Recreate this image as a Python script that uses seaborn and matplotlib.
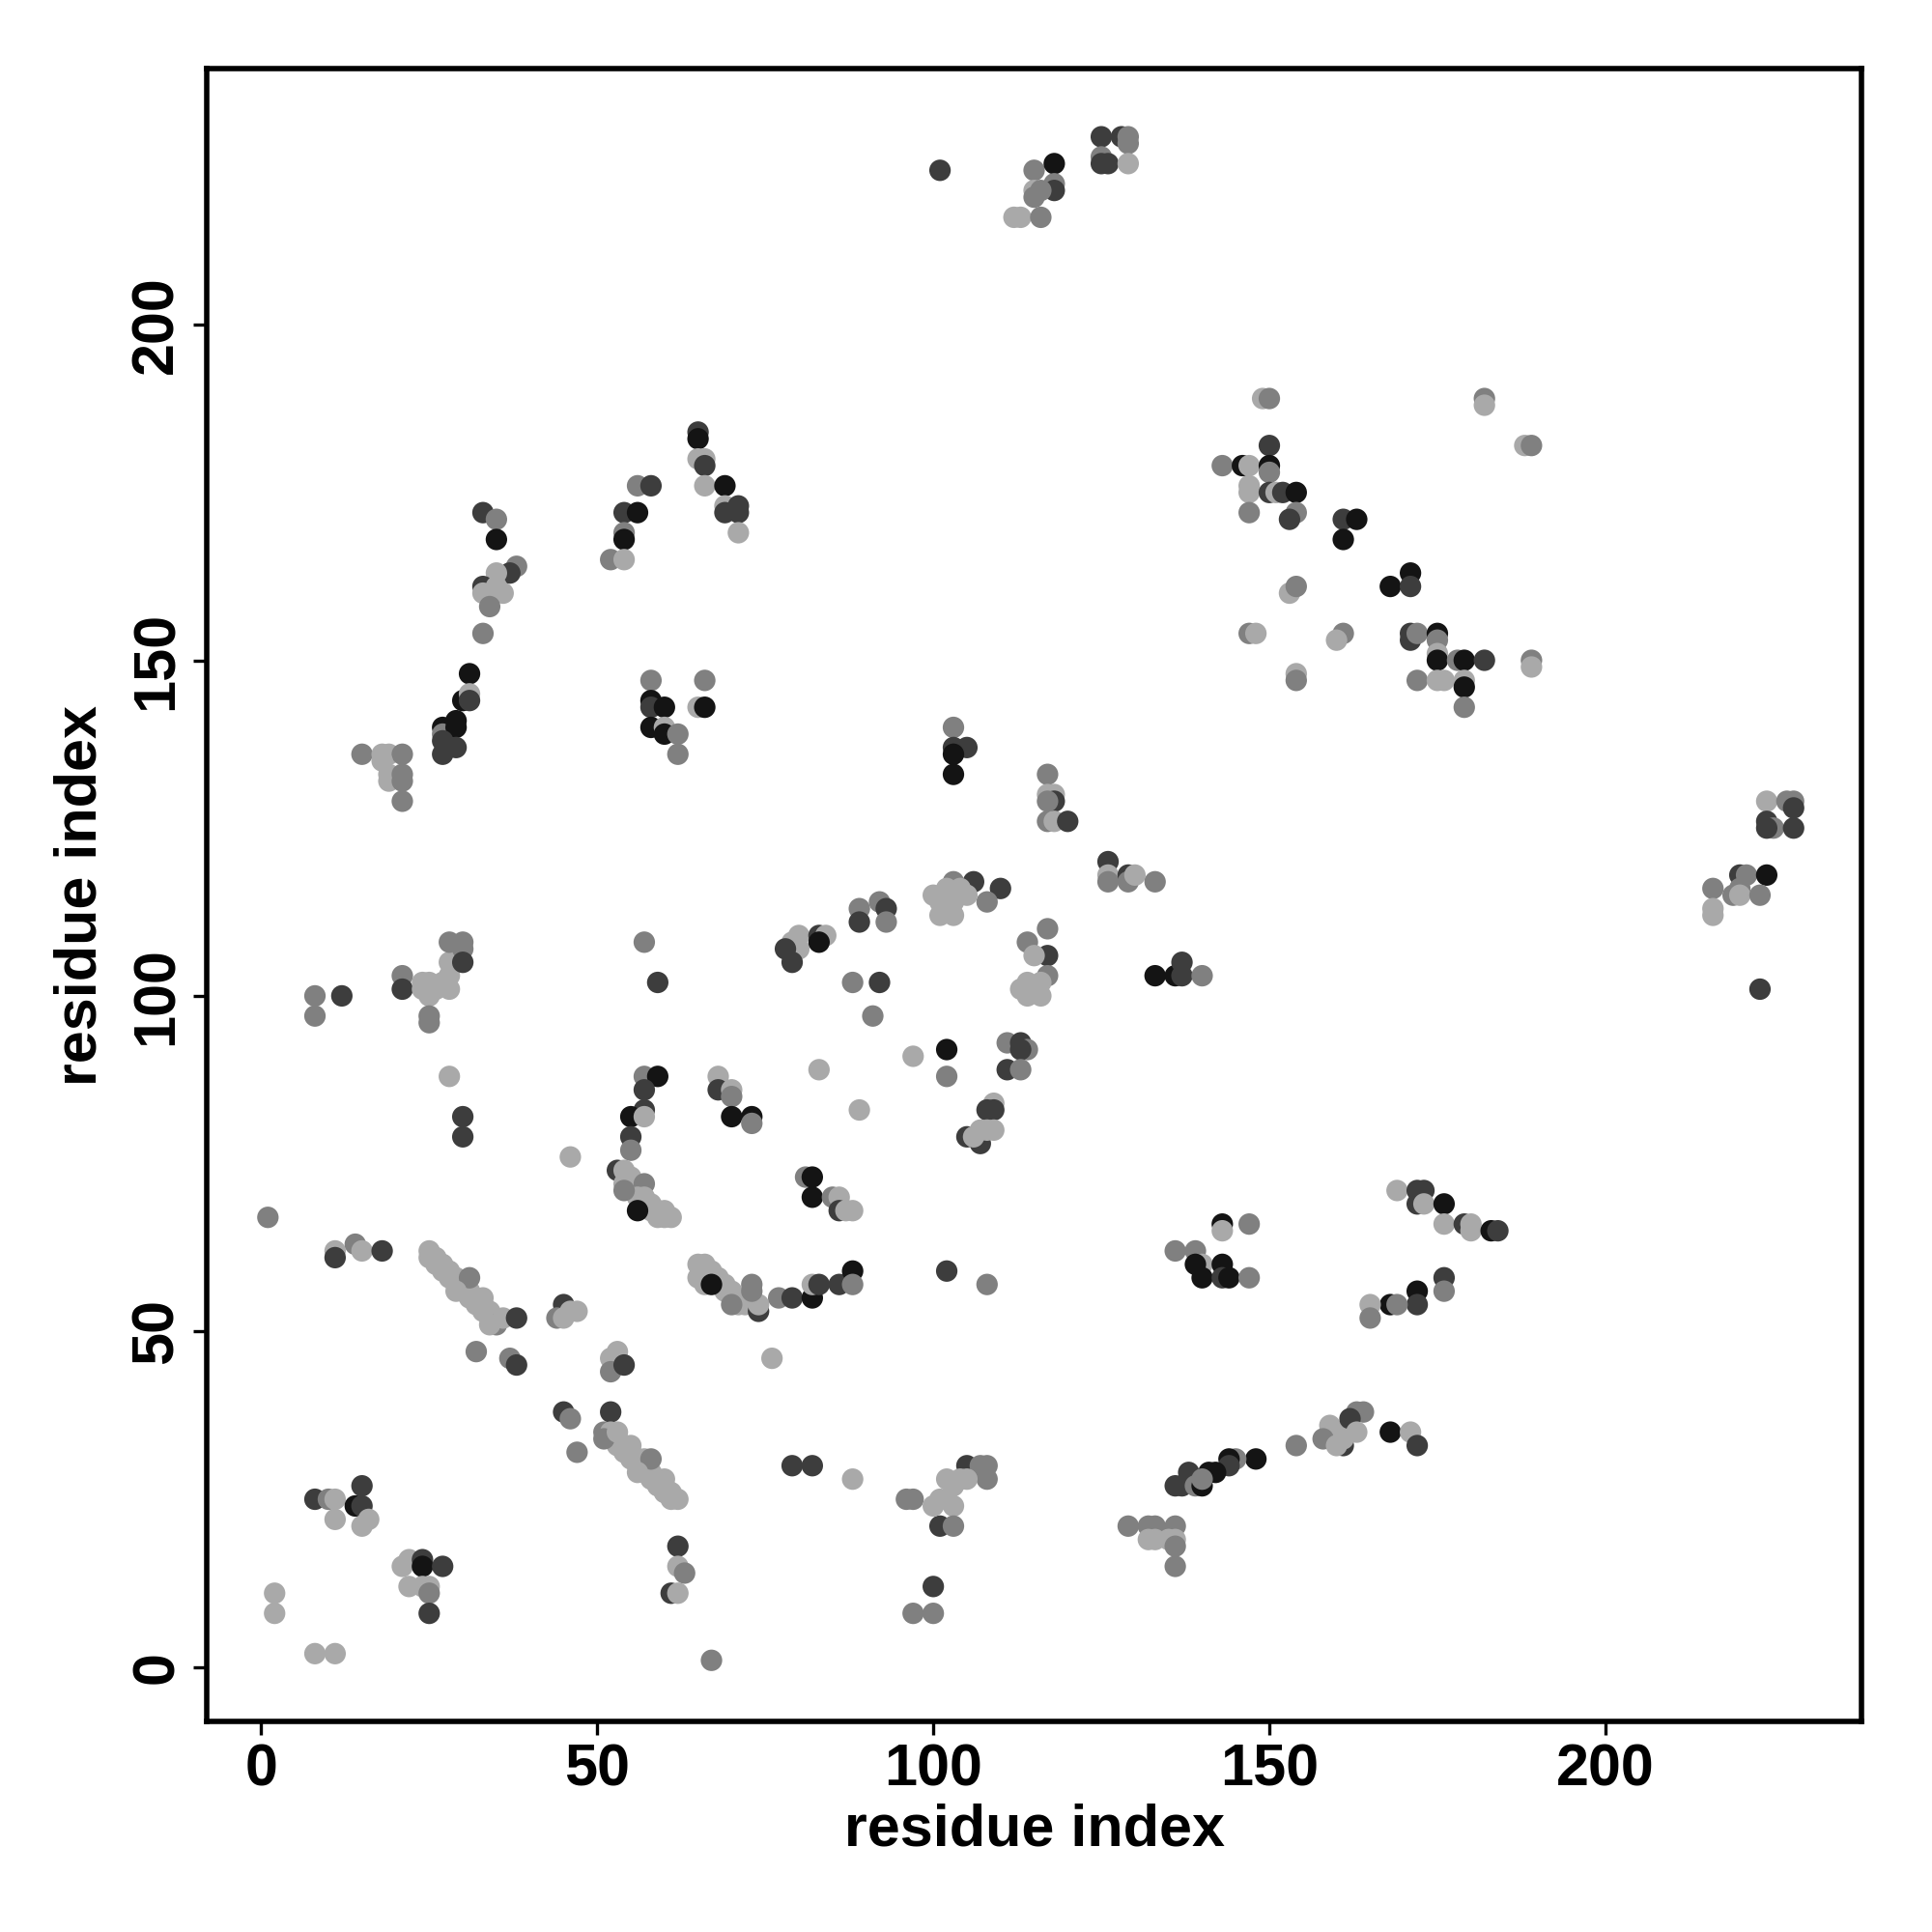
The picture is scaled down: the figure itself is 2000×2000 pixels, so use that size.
import pandas as pd
import matplotlib
matplotlib.use("Agg")
import matplotlib.pyplot as plt
import seaborn as sns

# ==================================================
# CONTACT DATA  (residue i, residue j, shade level 0=darkest .. 3=lightest)
# ==================================================

top_contacts = [
    (101, 223, 1),
    (115, 223, 2), (118, 224, 0), (118, 221, 2), (118, 220, 1), (115, 220, 3),
    (116, 220, 2), (115, 219, 2), (112, 216, 3), (113, 216, 3), (116, 216, 2),
    (125, 228, 1), (128, 228, 1), (129, 228, 2), (129, 227, 2), (125, 225, 2),
    (126, 224, 1), (125, 224, 1), (129, 224, 3),
]

upper_right_contacts = [
    (149, 189, 3), (150, 189, 2), (150, 182, 1), (143, 179, 2), (146, 179, 0),
    (147, 179, 3), (150, 179, 0), (150, 178, 2), (147, 176, 3), (147, 175, 3),
    (150, 175, 1), (151, 175, 3), (152, 175, 1), (154, 175, 0), (147, 172, 2),
    (154, 172, 2), (153, 171, 1), (153, 160, 3), (154, 161, 2),
    (182, 189, 2), (182, 188, 3), (188, 182, 3), (189, 182, 2),
    (161, 171, 1), (163, 171, 0), (161, 168, 0), (171, 163, 0), (168, 161, 0),
    (171, 161, 1),
    (161, 154, 2), (160, 153, 3), (171, 154, 1), (171, 153, 1), (172, 154, 2),
    (175, 154, 0), (175, 153, 2), (175, 151, 3), (175, 150, 0), (178, 150, 2),
    (179, 150, 0), (182, 150, 1), (189, 150, 2), (189, 149, 3), (172, 147, 2),
    (175, 147, 3), (176, 147, 3), (179, 147, 3), (179, 146, 0), (179, 143, 2),
    (147, 154, 2), (148, 154, 3), (154, 148, 3), (154, 147, 2),
]

upper_left_contacts = [
    (65, 184, 1), (65, 183, 0), (65, 180, 3), (66, 180, 3), (66, 179, 1),
    (66, 176, 3), (69, 176, 0), (69, 173, 3), (71, 173, 1), (71, 172, 1),
    (69, 172, 1), (71, 169, 3),
    (56, 176, 2), (58, 176, 1), (54, 172, 1), (56, 172, 0), (54, 169, 2),
    (54, 168, 0), (52, 165, 2), (54, 165, 3),
    (33, 172, 1), (35, 171, 2), (35, 168, 0), (38, 164, 2), (37, 163, 1),
    (35, 163, 3), (33, 161, 1), (33, 160, 3), (35, 161, 3), (36, 160, 3),
    (34, 158, 2), (33, 154, 2),
    (31, 148, 0), (30, 144, 0), (31, 145, 3), (31, 144, 1), (27, 140, 0),
    (27, 139, 2), (29, 141, 0), (29, 140, 0), (27, 138, 1), (27, 136, 1),
    (29, 137, 1),
    (15, 136, 2), (18, 136, 3), (19, 136, 3), (21, 136, 2), (19, 133, 3),
    (19, 132, 3), (21, 133, 2), (21, 132, 2), (21, 129, 2), (18, 135, 3),
    (58, 147, 2), (66, 147, 2), (58, 144, 0), (58, 143, 1), (60, 143, 0),
    (65, 143, 3), (66, 143, 0), (58, 140, 0), (60, 140, 3), (60, 139, 0),
    (62, 139, 2), (62, 136, 2),
]

middle_left_contacts = [
    (57, 108, 2), (59, 102, 1),
    (8, 100, 2), (12, 100, 1), (8, 97, 2),
    (21, 103, 2), (21, 101, 1), (24, 102, 3), (24, 101, 3), (25, 102, 3),
    (25, 100, 3), (26, 101, 3), (25, 97, 2), (25, 96, 2), (27, 102, 3),
    (28, 103, 3), (28, 105, 3), (28, 101, 3), (28, 108, 2), (30, 108, 2),
    (30, 107, 2), (30, 105, 1),
    (28, 88, 3), (30, 82, 1), (30, 79, 1),
    (57, 88, 2), (59, 88, 0), (57, 86, 1), (57, 83, 1), (55, 82, 0),
    (57, 82, 3), (55, 79, 1), (55, 77, 2), (46, 76, 3),
    (68, 88, 3), (68, 86, 1), (70, 86, 3), (70, 85, 2), (70, 82, 0),
    (73, 82, 0), (73, 81, 2),
]

middle_contacts = [
    (103, 140, 2), (103, 137, 1), (105, 137, 1), (103, 136, 0), (103, 133, 0),
    (117, 133, 2), (117, 130, 3), (118, 130, 3), (118, 129, 1), (117, 129, 2),
    (117, 126, 2), (118, 126, 3), (120, 126, 1),
    (126, 120, 1), (126, 118, 3), (126, 117, 2), (129, 118, 1), (129, 117, 2),
    (130, 118, 3), (133, 117, 2),
    (103, 117, 2), (106, 117, 1), (110, 116, 1), (108, 114, 2),
    (100, 115, 3), (101, 114, 3), (102, 113, 3), (103, 114, 3), (102, 116, 3),
    (104, 116, 3), (101, 112, 3), (103, 112, 3), (105, 115, 3),
    (89, 113, 2), (92, 114, 2), (93, 113, 1), (89, 111, 1), (93, 111, 2),
    (80, 109, 3), (79, 108, 3), (80, 107, 3), (83, 109, 1), (84, 109, 3),
    (83, 108, 0), (78, 107, 1), (79, 105, 1),
    (88, 102, 2), (92, 102, 1), (91, 97, 2), (83, 89, 3), (89, 83, 3),
    (97, 91, 3), (102, 92, 0), (102, 88, 2),
    (111, 93, 2), (113, 93, 1), (114, 92, 2), (113, 92, 1), (111, 89, 1),
    (113, 89, 2),
    (109, 84, 3), (108, 83, 1), (109, 83, 1), (105, 79, 1), (107, 78, 1),
    (107, 80, 3), (108, 80, 3), (109, 80, 3), (106, 79, 3),
    (117, 110, 2), (114, 108, 2), (117, 106, 1), (115, 106, 3), (117, 103, 2),
    (113, 101, 3), (114, 102, 3), (115, 101, 3), (116, 102, 3), (114, 100, 3),
    (116, 100, 3),
    (133, 103, 0), (136, 103, 0), (137, 105, 1), (137, 103, 1), (140, 103, 2),
]

right_contacts = [
    (224, 129, 3), (227, 129, 2), (228, 129, 2), (228, 128, 1), (224, 126, 1),
    (225, 125, 2), (228, 125, 1), (224, 125, 1),
    (220, 118, 1), (221, 118, 2), (224, 118, 0), (216, 116, 2), (219, 115, 2),
    (220, 116, 2), (220, 115, 3), (223, 115, 2), (216, 113, 3), (216, 112, 3),
    (223, 101, 1),
]

lower_left_contacts = [
    (1, 67, 2), (11, 62, 3), (11, 61, 1), (14, 63, 2), (15, 62, 3), (18, 62, 1),
    (25, 62, 3), (25, 61, 3), (26, 61, 3), (26, 60, 3), (27, 60, 3), (27, 59, 3),
    (28, 59, 3), (28, 58, 3), (29, 58, 3), (29, 57, 3), (30, 57, 3), (30, 56, 3),
    (31, 56, 3), (31, 55, 3), (32, 55, 3), (32, 54, 3), (33, 54, 3), (33, 53, 3),
    (34, 53, 3), (34, 52, 3), (35, 52, 3), (35, 51, 2), (31, 58, 2), (29, 56, 3),
    (33, 55, 3), (36, 52, 3), (34, 51, 3),
    (38, 52, 1), (32, 47, 2), (37, 46, 2), (38, 45, 1),
    (45, 54, 1), (44, 52, 2), (46, 53, 3), (47, 53, 3), (45, 52, 3),
    (53, 47, 3), (52, 46, 3), (52, 44, 2), (54, 45, 1),
    (45, 38, 1), (46, 37, 2), (47, 32, 2), (52, 38, 1),
    (51, 35, 2), (52, 35, 3), (52, 34, 3), (53, 34, 3), (53, 33, 3), (54, 33, 3),
    (54, 32, 3), (55, 32, 3), (55, 31, 3), (56, 31, 3), (56, 30, 3), (57, 30, 3),
    (57, 29, 3), (58, 29, 3), (58, 28, 3), (59, 28, 3), (59, 27, 3), (60, 27, 3),
    (60, 26, 3), (61, 26, 3), (61, 25, 3), (62, 25, 3), (51, 34, 2), (53, 35, 3),
    (55, 33, 3), (57, 31, 3), (58, 31, 2), (56, 29, 3), (60, 28, 3),
    (62, 18, 1), (62, 15, 3), (63, 14, 2), (61, 11, 1), (62, 11, 3), (67, 1, 2),
    (8, 25, 1), (10, 25, 2), (11, 25, 3), (15, 27, 1), (14, 24, 0), (15, 24, 1),
    (11, 22, 3), (15, 21, 3), (16, 22, 3),
    (21, 15, 3), (22, 16, 3), (24, 16, 1), (24, 15, 0), (27, 15, 1), (22, 12, 3),
    (24, 12, 3), (25, 12, 3), (25, 11, 2), (25, 8, 1),
    (2, 11, 3), (2, 8, 3), (8, 2, 3), (11, 2, 3),
    (53, 74, 1), (54, 74, 3), (55, 73, 3), (54, 72, 3), (55, 72, 3), (56, 71, 3),
    (57, 72, 2), (56, 70, 3), (57, 70, 3), (57, 69, 3), (58, 69, 3), (58, 68, 3),
    (59, 68, 3), (59, 67, 3), (60, 67, 3), (60, 68, 3), (61, 67, 3), (56, 68, 0),
    (54, 71, 2),
    (65, 60, 3), (66, 60, 3), (66, 59, 3), (67, 59, 3), (67, 58, 3), (68, 58, 3),
    (68, 57, 3), (69, 57, 3), (69, 56, 3), (70, 56, 3), (70, 55, 3), (71, 55, 3),
    (71, 54, 3), (72, 54, 3), (73, 54, 3), (65, 58, 3), (66, 57, 3), (67, 57, 0),
    (73, 57, 2), (74, 53, 1), (70, 54, 2), (74, 54, 3), (73, 56, 2),
    (76, 46, 3),
]

lower_middle_contacts = [
    (81, 73, 2), (82, 73, 0), (82, 70, 0), (85, 70, 2), (86, 70, 3), (86, 68, 1),
    (88, 68, 3), (87, 68, 3),
    (77, 55, 2), (79, 55, 1), (82, 55, 0), (82, 57, 3), (83, 57, 1), (86, 57, 1),
    (88, 59, 0), (88, 57, 2),
    (102, 59, 1), (108, 57, 2),
    (79, 30, 1), (82, 30, 1), (88, 28, 3),
    (105, 30, 1), (107, 30, 2), (108, 30, 2), (108, 28, 2), (102, 28, 3),
    (105, 28, 3), (103, 27, 3), (101, 25, 3), (102, 25, 3), (103, 24, 3),
    (96, 25, 2), (97, 25, 2), (101, 21, 1), (103, 21, 2), (100, 24, 3),
    (104, 28, 3),
    (100, 12, 1), (97, 8, 2), (100, 8, 2),
]

lower_right_contacts = [
    (143, 66, 0), (147, 66, 2), (143, 65, 3),
    (136, 62, 2), (139, 62, 2), (140, 60, 3), (139, 60, 0), (143, 60, 0),
    (140, 58, 0), (143, 58, 1), (144, 58, 0), (147, 58, 2),
    (148, 31, 0), (145, 31, 2), (144, 31, 0), (144, 30, 1), (142, 29, 0),
    (141, 29, 0), (138, 29, 1), (136, 27, 1), (137, 27, 1), (139, 27, 2),
    (140, 27, 0), (140, 28, 2),
    (129, 21, 2), (132, 21, 2), (133, 21, 2), (136, 21, 2), (132, 19, 3),
    (133, 19, 3), (135, 19, 3), (136, 19, 3), (136, 18, 2), (136, 15, 2),
    (169, 71, 3), (172, 71, 1), (173, 71, 1), (172, 69, 1), (173, 69, 3),
    (176, 69, 0),
    (176, 66, 3), (179, 66, 1), (180, 66, 3), (180, 65, 3), (183, 65, 0),
    (184, 65, 1),
    (176, 58, 1), (176, 56, 2), (172, 56, 0), (172, 54, 1), (168, 54, 0),
    (169, 54, 2), (165, 54, 3), (165, 52, 2),
    (164, 38, 2), (163, 38, 2), (159, 36, 3), (160, 35, 3), (162, 37, 1),
    (163, 35, 3), (161, 33, 1), (158, 34, 2), (168, 35, 0), (171, 35, 3),
    (172, 33, 1), (154, 33, 2), (160, 33, 3), (161, 34, 3),
]

shade_colors = {0: "#141414", 1: "#3d3d3d", 2: "#808080", 3: "#a9a9a9"}
x_ticks = [0, 50, 100, 150, 200]
y_ticks = [0, 50, 100, 150, 200]

# ==================================================
# BUILD DATAFRAME
# ==================================================

all_contacts = (
    top_contacts + upper_right_contacts + upper_left_contacts
    + middle_left_contacts + middle_contacts + right_contacts
    + lower_left_contacts + lower_middle_contacts + lower_right_contacts
)

df = pd.DataFrame(all_contacts, columns=["i", "j", "shade"])

# ==================================================
# PLOT
# ==================================================

sns.set_theme(style="white")
plt.rcParams["font.family"] = ["Liberation Sans", "DejaVu Sans"]
plt.rcParams["font.weight"] = "bold"
plt.rcParams["text.color"] = "black"
plt.rcParams["axes.labelcolor"] = "black"
plt.rcParams["xtick.color"] = "black"
plt.rcParams["ytick.color"] = "black"

fig = plt.figure(figsize=(10, 10), dpi=200)
ax = fig.add_axes([0.107, 0.109, 0.8565, 0.8553])

sns.scatterplot(
    data=df,
    x="i",
    y="j",
    hue="shade",
    palette=shade_colors,
    s=64,
    linewidth=0,
    legend=False,
    ax=ax
)

ax.set_xlim(-8.1, 238.1)
ax.set_ylim(-8.1, 238.1)
ax.set_xticks(x_ticks)
ax.set_yticks(y_ticks)

for spine in ax.spines.values():
    spine.set_visible(True)
    spine.set_color("black")
    spine.set_linewidth(2.0)

ax.tick_params(axis="both", direction="out", length=5, width=1.2,
               color="black", labelcolor="black", labelsize=22, pad=3,
               bottom=True, left=True)
for lab in ax.get_yticklabels():
    lab.set_rotation(90)
    lab.set_verticalalignment("center")
    lab.set_fontweight("bold")
for lab in ax.get_xticklabels():
    lab.set_fontweight("bold")

ax.set_xlabel("residue index", fontsize=22, fontweight="bold", labelpad=2,
              color="black")
ax.set_ylabel("residue index", fontsize=22, fontweight="bold", labelpad=8,
              color="black")

fig.savefig("out.png", dpi=200, facecolor="white")
